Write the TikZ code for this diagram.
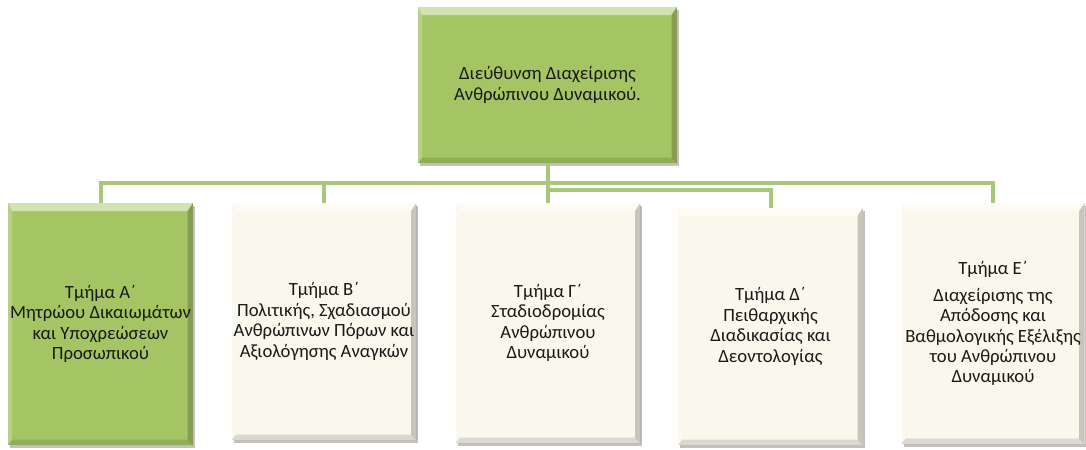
\documentclass[tikz,border=0pt]{standalone}
\usepackage{fontspec}
\setmainfont{Carlito}
\usetikzlibrary{shadows}
\definecolor{grn}{HTML}{A5C564}
\definecolor{crm}{HTML}{FAF8EC}
\definecolor{conn}{HTML}{A9C77B}
\tikzset{
  bevel/.style={path picture={
    \fill[white,opacity=.5] (path picture bounding box.north west) -- (path picture bounding box.north east)
      -- ([shift={(-4pt,-6pt)}]path picture bounding box.north east) -- ([shift={(3pt,-6pt)}]path picture bounding box.north west) -- cycle;
    \fill[white,opacity=.2] (path picture bounding box.north west) -- ([shift={(3pt,-6pt)}]path picture bounding box.north west)
      -- ([shift={(3pt,4pt)}]path picture bounding box.south west) -- (path picture bounding box.south west) -- cycle;
    \fill[black,opacity=.2] (path picture bounding box.north east) -- ([shift={(-4pt,-6pt)}]path picture bounding box.north east)
      -- ([shift={(-4pt,4pt)}]path picture bounding box.south east) -- (path picture bounding box.south east) -- cycle;
    \fill[black,opacity=.12] (path picture bounding box.south west) -- ([shift={(3pt,4pt)}]path picture bounding box.south west)
      -- ([shift={(-4pt,4pt)}]path picture bounding box.south east) -- (path picture bounding box.south east) -- cycle;
  }}
}
\begin{document}
\begin{tikzpicture}[x=.75pt,y=-.75pt,
  box/.style={bevel, drop shadow={shadow xshift=1.5pt, shadow yshift=-2.5pt, opacity=.35, fill=black!70},
    inner sep=0pt, align=center, text=black!90, font=\fontsize{14}{15.3}\selectfont},
  dept/.style={box, fill=crm, minimum width=138.5pt, minimum height=180pt},
  conn/.style={draw=conn, line width=3pt}]
  \useasboundingbox (0,0) rectangle (1086,450);
  \coordinate (bus) at (547.5,183);
  \coordinate (busd) at (547.5,189.5);
  \node[box, fill=grn, minimum width=194pt, minimum height=117pt] (dir) at (547.5,85) {Διεύθυνση Διαχείρισης\\Ανθρώπινου Δυναμικού.};
  \node[dept, fill=grn, minimum height=181.5pt] (tma) at (100.5,324) {Τμήμα Α΄\\Μητρώου Δικαιωμάτων\\και Υποχρεώσεων\\Προσωπικού};
  \node[dept, minimum height=177.75pt] (tmb) at (324,321.5) {Τμήμα Β΄\\Πολιτικής, Σχαδιασμού\\Ανθρώπινων Πόρων και\\Αξιολόγησης Αναγκών};
  \node[dept] (tmg) at (548,323) {Τμήμα Γ΄\\Σταδιοδρομίας\\Ανθρώπινου\\Δυναμικού};
  \node[dept, minimum height=177.75pt] (tmd) at (770.5,326.5) {Τμήμα Δ΄\\Πειθαρχικής\\Διαδικασίας και\\Δεοντολογίας};
  \node[dept, minimum width=137.25pt, minimum height=180.75pt] (tme) at (993,323.5) {Τμήμα Ε΄\\[5pt]Διαχείρισης της\\Απόδοσης και\\Βαθμολογικής Εξέλιξης\\του Ανθρώπινου\\Δυναμικού};
  \draw[conn] (dir.south) -- (dir.south |- tmg.north);
  \draw[conn] (dir.south) -- (busd) -| (tmd.north);
  \foreach \n in {tma,tmb,tme} \draw[conn] (bus) -| (\n.north);
\end{tikzpicture}
\end{document}
